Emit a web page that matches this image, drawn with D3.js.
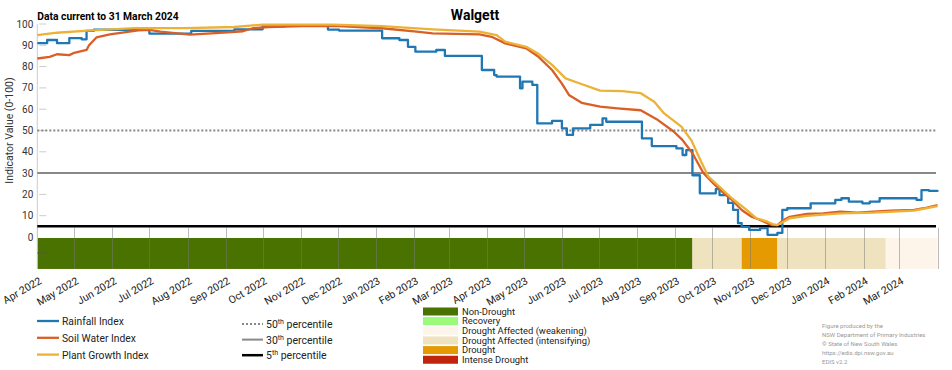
<!DOCTYPE html>
<html>
<head>
<meta charset="utf-8">
<title>Walgett</title>
<script src="https://d3js.org/d3.v7.min.js"></script>
<style>
  body { margin: 0; background: #fff; }
  svg { font-family: Roboto, "Liberation Sans", sans-serif; }
</style>
</head>
<body>
<svg width="952" height="370"></svg>
<script>
// ---- data ----
const rainfall = [
  ["2022-04-01", 91], ["2022-04-09", 92.5], ["2022-04-17", 91], ["2022-04-27", 93.4],
  ["2022-05-07", 92.8], ["2022-05-11", 96.8], ["2022-05-17", 97.3], ["2022-07-01", 95.5],
  ["2022-08-04", 96.8], ["2022-09-08", 97.5], ["2022-10-01", 98.9], ["2022-10-19", 99.5],
  ["2022-11-23", 97.4], ["2022-12-02", 96.9], ["2023-01-06", 93.3], ["2023-01-20", 92.5],
  ["2023-01-27", 89.3], ["2023-02-02", 87], ["2023-02-19", 87.8], ["2023-02-26", 85],
  ["2023-03-28", 78.4], ["2023-04-07", 76], ["2023-04-09", 75.3], ["2023-04-28", 69.8],
  ["2023-04-30", 72.9], ["2023-05-08", 71.4], ["2023-05-12", 53.3], ["2023-05-24", 54.5],
  ["2023-06-01", 51], ["2023-06-05", 47.9], ["2023-06-10", 51], ["2023-06-24", 52.6],
  ["2023-07-04", 55.7], ["2023-07-07", 54.1], ["2023-08-05", 46.3], ["2023-08-13", 42.7],
  ["2023-09-02", 41.6], ["2023-09-07", 38.5], ["2023-09-10", 40.8], ["2023-09-15", 29],
  ["2023-09-21", 20.5], ["2023-10-04", 22.5], ["2023-10-07", 19.7], ["2023-10-14", 16],
  ["2023-10-18", 12.7], ["2023-10-22", 6.5], ["2023-10-25", 4.8], ["2023-10-31", 3.3],
  ["2023-11-09", 4.2], ["2023-11-15", 1], ["2023-11-23", 1.9], ["2023-11-27", 12.7],
  ["2023-12-01", 13.5], ["2023-12-20", 15.8], ["2024-01-09", 17.4], ["2024-01-14", 18.2],
  ["2024-01-20", 16.6], ["2024-01-31", 15.8], ["2024-02-06", 16.6], ["2024-02-14", 18.2],
  ["2024-03-15", 17.4], ["2024-03-19", 22], ["2024-03-25", 21.7], ["2024-04-01", 21.3]
];
const soilWater = [
  ["2022-04-01", 83.8], ["2022-04-11", 84.6], ["2022-04-17", 85.8], ["2022-04-27", 85.4],
  ["2022-05-01", 86.5], ["2022-05-11", 87.8], ["2022-05-13", 90], ["2022-05-19", 93.7],
  ["2022-05-30", 95.1], ["2022-06-22", 97], ["2022-07-01", 97.2], ["2022-07-10", 96.4],
  ["2022-08-03", 95], ["2022-08-27", 95.8], ["2022-09-15", 96.6], ["2022-09-23", 98],
  ["2022-10-06", 98.6], ["2022-11-02", 99], ["2022-12-02", 99], ["2023-01-06", 98],
  ["2023-02-03", 96.4], ["2023-02-16", 95.6], ["2023-03-26", 95.1], ["2023-04-05", 94],
  ["2023-04-16", 90.9], ["2023-05-03", 88.6], ["2023-05-13", 84.6], ["2023-05-24", 78.4],
  ["2023-06-01", 72], ["2023-06-07", 66.5], ["2023-06-17", 63], ["2023-07-02", 61.2],
  ["2023-07-16", 60.4], ["2023-08-04", 59.5], ["2023-08-18", 54.9], ["2023-08-31", 49.4],
  ["2023-09-07", 45.5], ["2023-09-15", 39.3], ["2023-09-24", 29.9], ["2023-10-02", 25.2],
  ["2023-10-09", 21.3], ["2023-10-17", 17.4], ["2023-10-25", 12.7], ["2023-11-02", 9.5],
  ["2023-11-09", 8], ["2023-11-15", 6.4], ["2023-11-19", 5.6], ["2023-11-23", 5.6],
  ["2023-11-28", 8], ["2023-12-03", 9.5], ["2023-12-17", 10.8], ["2023-12-30", 11.1],
  ["2024-01-13", 11.9], ["2024-01-27", 11.4], ["2024-02-09", 11.9], ["2024-02-23", 12.4],
  ["2024-03-13", 12.7], ["2024-03-21", 13.5], ["2024-04-01", 15]
];
const plantGrowth = [
  ["2022-04-01", 94.8], ["2022-04-17", 95.9], ["2022-05-12", 96.9], ["2022-06-19", 98.1],
  ["2022-07-30", 98.1], ["2022-09-08", 98.6], ["2022-10-01", 99.7], ["2022-11-27", 99.7],
  ["2023-01-06", 99], ["2023-02-16", 97.5], ["2023-03-26", 96.4], ["2023-04-09", 94.8],
  ["2023-04-16", 91.7], ["2023-05-03", 89.3], ["2023-05-13", 86], ["2023-05-24", 80.8],
  ["2023-06-04", 74.5], ["2023-06-15", 72.2], ["2023-07-02", 68.7], ["2023-07-20", 68.5],
  ["2023-08-04", 67.5], ["2023-08-15", 63.5], ["2023-08-23", 58], ["2023-09-06", 51.8],
  ["2023-09-14", 45.5], ["2023-09-22", 35.4], ["2023-09-28", 28.3], ["2023-10-07", 23.6],
  ["2023-10-17", 18.2], ["2023-10-29", 12.7], ["2023-11-06", 8.8], ["2023-11-15", 7.2],
  ["2023-11-19", 6.1], ["2023-11-23", 5.6], ["2023-11-28", 7.2], ["2023-12-03", 8.8],
  ["2023-12-17", 9.9], ["2024-01-13", 11.1], ["2024-02-09", 11.4], ["2024-03-13", 12.4],
  ["2024-04-01", 14.5]
];

const droughtStarts = ["2022-04-01", "2023-09-15", "2023-10-25", "2023-11-23", "2024-02-19"];
const droughtEnds   = ["2023-09-15", "2023-10-25", "2023-11-23", "2024-02-19", "2024-04-01"];
const droughtPhase  = ["Non-Drought", "Drought Affected (intensifying)", "Drought",
                       "Drought Affected (intensifying)", "Drought Affected (weakening)"];

const phaseNames  = ["Non-Drought", "Recovery", "Drought Affected (weakening)",
                     "Drought Affected (intensifying)", "Drought", "Intense Drought"];
const phaseColors = ["#4a7200", "#9cfa7a", "#fdf5ea", "#efe2bf", "#e49a00", "#c0240a"];

const seriesNames  = ["Rainfall Index", "Soil Water Index", "Plant Growth Index"];
const seriesColors = ["#1f77b4", "#d95f27", "#ecb236"];

const percentiles = [50, 30, 5];
const yTicks = [0, 10, 20, 30, 40, 50, 60, 70, 80, 90, 100];
const footer = ["Figure produced by the", "NSW Department of Primary Industries",
                "\u00a9 State of New South Wales", "https://edis.dpi.nsw.gov.au", "EDIS v2.2"];

// ---- layout ----
const parse = d3.timeParse("%Y-%m-%d");
const svg = d3.select("svg");
const left = 37.3, right = 937.5;

const x = d3.scaleTime()
  .domain([parse("2022-04-01"), parse("2024-04-01")])
  .range([left, right]);
const y = d3.scaleLinear().domain([0, 100]).range([237, 24]);

const colour = d3.scaleOrdinal().domain(phaseNames).range(phaseColors);

// drought phase bar
svg.append("g").selectAll("rect")
  .data(droughtPhase)
  .join("rect")
  .attr("x", (d, i) => x(parse(droughtStarts[i])))
  .attr("width", (d, i) => x(parse(droughtEnds[i])) - x(parse(droughtStarts[i])))
  .attr("y", y(0) + 1)
  .attr("height", y(-15) - y(0) - 1)
  .attr("fill", d => colour(d));

// month grid lines
const months = d3.timeMonth.range(parse("2022-04-01"), parse("2024-04-02"));
svg.append("g").selectAll("line")
  .data(months)
  .join("line")
  .attr("x1", d => Math.round(x(d)) + 0.5).attr("x2", d => Math.round(x(d)) + 0.5)
  .attr("y1", y(4.3)).attr("y2", y(-15))
  .attr("stroke", "#777").attr("stroke-opacity", 0.5).attr("stroke-width", 1);

// month labels
const fmt = d3.timeFormat("%b %Y");
svg.append("g").selectAll("text")
  .data(months.slice(0, -1))
  .join("text")
  .attr("transform", d => `translate(${x(d) + 5},${y(-15) + 14}) rotate(-30)`)
  .attr("text-anchor", "end")
  .attr("font-size", 10.5)
  .attr("fill", "#222")
  .text(d => fmt(d));

// y axis
svg.append("line")
  .attr("x1", left).attr("x2", left).attr("y1", y(100)).attr("y2", y(-15))
  .attr("stroke", "#ccc");
const yAxis = svg.append("g");
yAxis.selectAll("line")
  .data(yTicks.slice(1))
  .join("line")
  .attr("x1", left + 2).attr("x2", left + 9)
  .attr("y1", d => y(d)).attr("y2", d => y(d))
  .attr("stroke", "#ccc");
yAxis.selectAll("text")
  .data(yTicks)
  .join("text")
  .attr("x", left - 4).attr("y", d => y(d) + 3.5)
  .attr("text-anchor", "end")
  .attr("font-size", 10)
  .attr("fill", "#333")
  .text(d => d);
svg.append("line")
  .attr("x1", left).attr("x2", left + 8).attr("y1", y(-7.5)).attr("y2", y(-7.5))
  .attr("stroke", "#555");

svg.append("text")
  .attr("transform", `translate(13,${y(50)}) rotate(-90)`)
  .attr("text-anchor", "middle")
  .attr("font-size", 10.5)
  .attr("fill", "#333")
  .text("Indicator Value (0-100)");

// percentile reference lines
const pctStyle = {
  50: { stroke: "#888", width: 1.8, dash: "2,2" },
  30: { stroke: "#888", width: 2, dash: null },
  5:  { stroke: "#000", width: 2.5, dash: null }
};
svg.append("g").selectAll("line")
  .data(percentiles)
  .join("line")
  .attr("x1", left).attr("x2", right - 1.5)
  .attr("y1", d => y(d)).attr("y2", d => y(d))
  .attr("stroke", d => pctStyle[d].stroke)
  .attr("stroke-width", d => pctStyle[d].width)
  .attr("stroke-dasharray", d => pctStyle[d].dash);

// index lines
const series = [rainfall, soilWater, plantGrowth];
const curves = [d3.curveStepAfter, d3.curveLinear, d3.curveLinear];
series.forEach((s, i) => {
  const line = d3.line()
    .x(d => x(parse(d[0])))
    .y(d => y(d[1]))
    .curve(curves[i]);
  svg.append("path")
    .datum(s)
    .attr("d", line)
    .attr("fill", "none")
    .attr("stroke", seriesColors[i])
    .attr("stroke-width", 2.3)
    .attr("stroke-linejoin", "round");
});

// titles
svg.append("text")
  .attr("x", 475).attr("y", 20)
  .attr("text-anchor", "middle")
  .attr("font-size", 14).attr("font-weight", "bold")
  .text("Walgett");
svg.append("text")
  .attr("x", left).attr("y", 20)
  .attr("font-size", 10.3).attr("font-weight", "bold")
  .text("Data current to 31 March 2024");

// series legend
const leg1 = svg.append("g");
seriesNames.forEach((n, i) => {
  const yy = 321 + i * 16.8;
  leg1.append("line").attr("x1", 37).attr("x2", 59).attr("y1", yy).attr("y2", yy)
    .attr("stroke", seriesColors[i]).attr("stroke-width", 2.3);
  leg1.append("text").attr("x", 62).attr("y", yy + 4).attr("font-size", 10.3)
    .attr("fill", "#222").text(n);
});

// percentile legend
percentiles.forEach((p, i) => {
  const yy = 324 + i * 15.6;
  const st = pctStyle[p];
  leg1.append("line").attr("x1", 242).attr("x2", 263).attr("y1", yy).attr("y2", yy)
    .attr("stroke", st.stroke).attr("stroke-width", st.width)
    .attr("stroke-dasharray", st.dash);
  const t = leg1.append("text").attr("x", 266).attr("y", yy + 4).attr("font-size", 10.5)
    .attr("fill", "#222");
  t.append("tspan").text(p);
  t.append("tspan").attr("font-size", 7).attr("dy", -4).text("th");
  t.append("tspan").attr("dy", 4).text(" percentile");
});

// drought phase legend
phaseNames.forEach((n, i) => {
  const yy = 311.5 + i * 9.65;
  leg1.append("rect").attr("x", 423).attr("y", yy - 4).attr("width", 35).attr("height", 8)
    .attr("fill", phaseColors[i]);
  leg1.append("text").attr("x", 462).attr("y", yy + 3.3).attr("font-size", 9.4)
    .attr("fill", "#222").text(n);
});

// footer
footer.forEach((f, i) => {
  svg.append("text").attr("x", 822).attr("y", 328 + i * 9)
    .attr("font-size", 6).attr("fill", "#999").text(f);
});
</script>
</body>
</html>
